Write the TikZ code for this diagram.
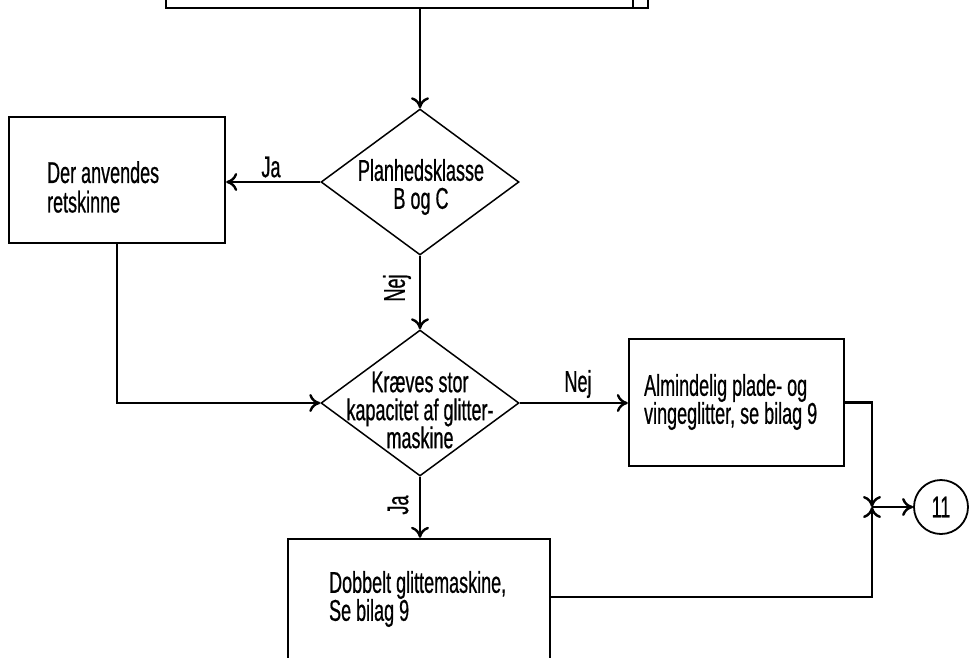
\documentclass[tikz,border=0pt]{standalone}
\usepackage{fontspec}
\setmainfont{Liberation Sans}[FakeStretch=0.6,FakeBold=0.6]
\usetikzlibrary{shapes.geometric,arrows.meta,calc}
\begin{document}
\begin{tikzpicture}[x=1pt,y=-1pt,
  line width=2.2pt,
  every node/.style={font=\fontsize{30}{28}\selectfont, inner sep=0pt},
  boxnode/.style={draw, rectangle, line width=2.4pt},
  dia/.style={draw, diamond, line width=1.5pt, minimum width=198pt, minimum height=146pt},
  txt/.style={align=left, anchor=west},
  ctxt/.style={align=center},
  arr/.style={-{Computer Modern Rightarrow[length=11pt,width=18pt,line width=2.4pt]}},
  ln/.style={line width=2.4pt}
]
\useasboundingbox (0,0) rectangle (969,657);

% top box (cut at the top edge)
\node[boxnode, minimum width=482pt, minimum height=80pt] (top) at (407,-32) {};
\coordinate (topdiv) at (633,8);
\draw[ln] (topdiv) -- ++(0,-20);

% decisions
\node[dia] (d1) at (420,182) {};
\node[ctxt] (d1t) at (421,187) {Planhedsklasse\\B og C};
\node[dia] (d2) at (420,403) {};
\node[ctxt] (d2t) at (420,410) {Kræves stor\\kapacitet af glitter-\\maskine};

% boxes
\node[boxnode, minimum width=216pt, minimum height=126pt] (b1) at (117,180) {};
\node[txt] (b1t) at (46,187) {Der anvendes\\[1.5pt]retskinne};
\node[boxnode, minimum width=215pt, minimum height=127pt] (b3) at (736.5,402.5) {};
\node[txt] (b3t) at (643,402) {Almindelig plade- og\\vingeglitter, se bilag 9};
\node[boxnode, minimum width=262pt, minimum height=130pt] (b4) at (419,604) {};
\node[txt] (b4t) at (328,599) {Dobbelt glittemaskine,\\Se bilag 9};

% connector circle
\node[draw, circle, line width=1.8pt, minimum size=54pt] (c11) at (941,507) {11};
\coordinate (m) at (872,507);

% labels
\node (ja1) at (271,167) {Ja};
\node[rotate=90] (nej1) at (397,288) {Nej};
\node (nej2) at (578,384) {Nej};
\node[rotate=90] (ja2) at (398,505) {Ja};

% connectors
\draw[arr] (d1.north |- top.south) -- (d1.north);
\draw[arr] (d1.west) -- (d1.west -| b1.east);
\draw[arr] (d1.south) -- (d2.north);
\draw[arr] (b1.south) |- (d2.west);
\draw[arr] (d2.east) -- (d2.east -| b3.west);
\draw[arr] (d2.south) -- (d2.south |- b4.north);
\draw[arr] (b3.east) -| (m);
\draw[arr] ($(b4.north east)+(0,59)$) -| (m);
\draw[arr] (m) -- (c11.west);
\end{tikzpicture}
\end{document}
